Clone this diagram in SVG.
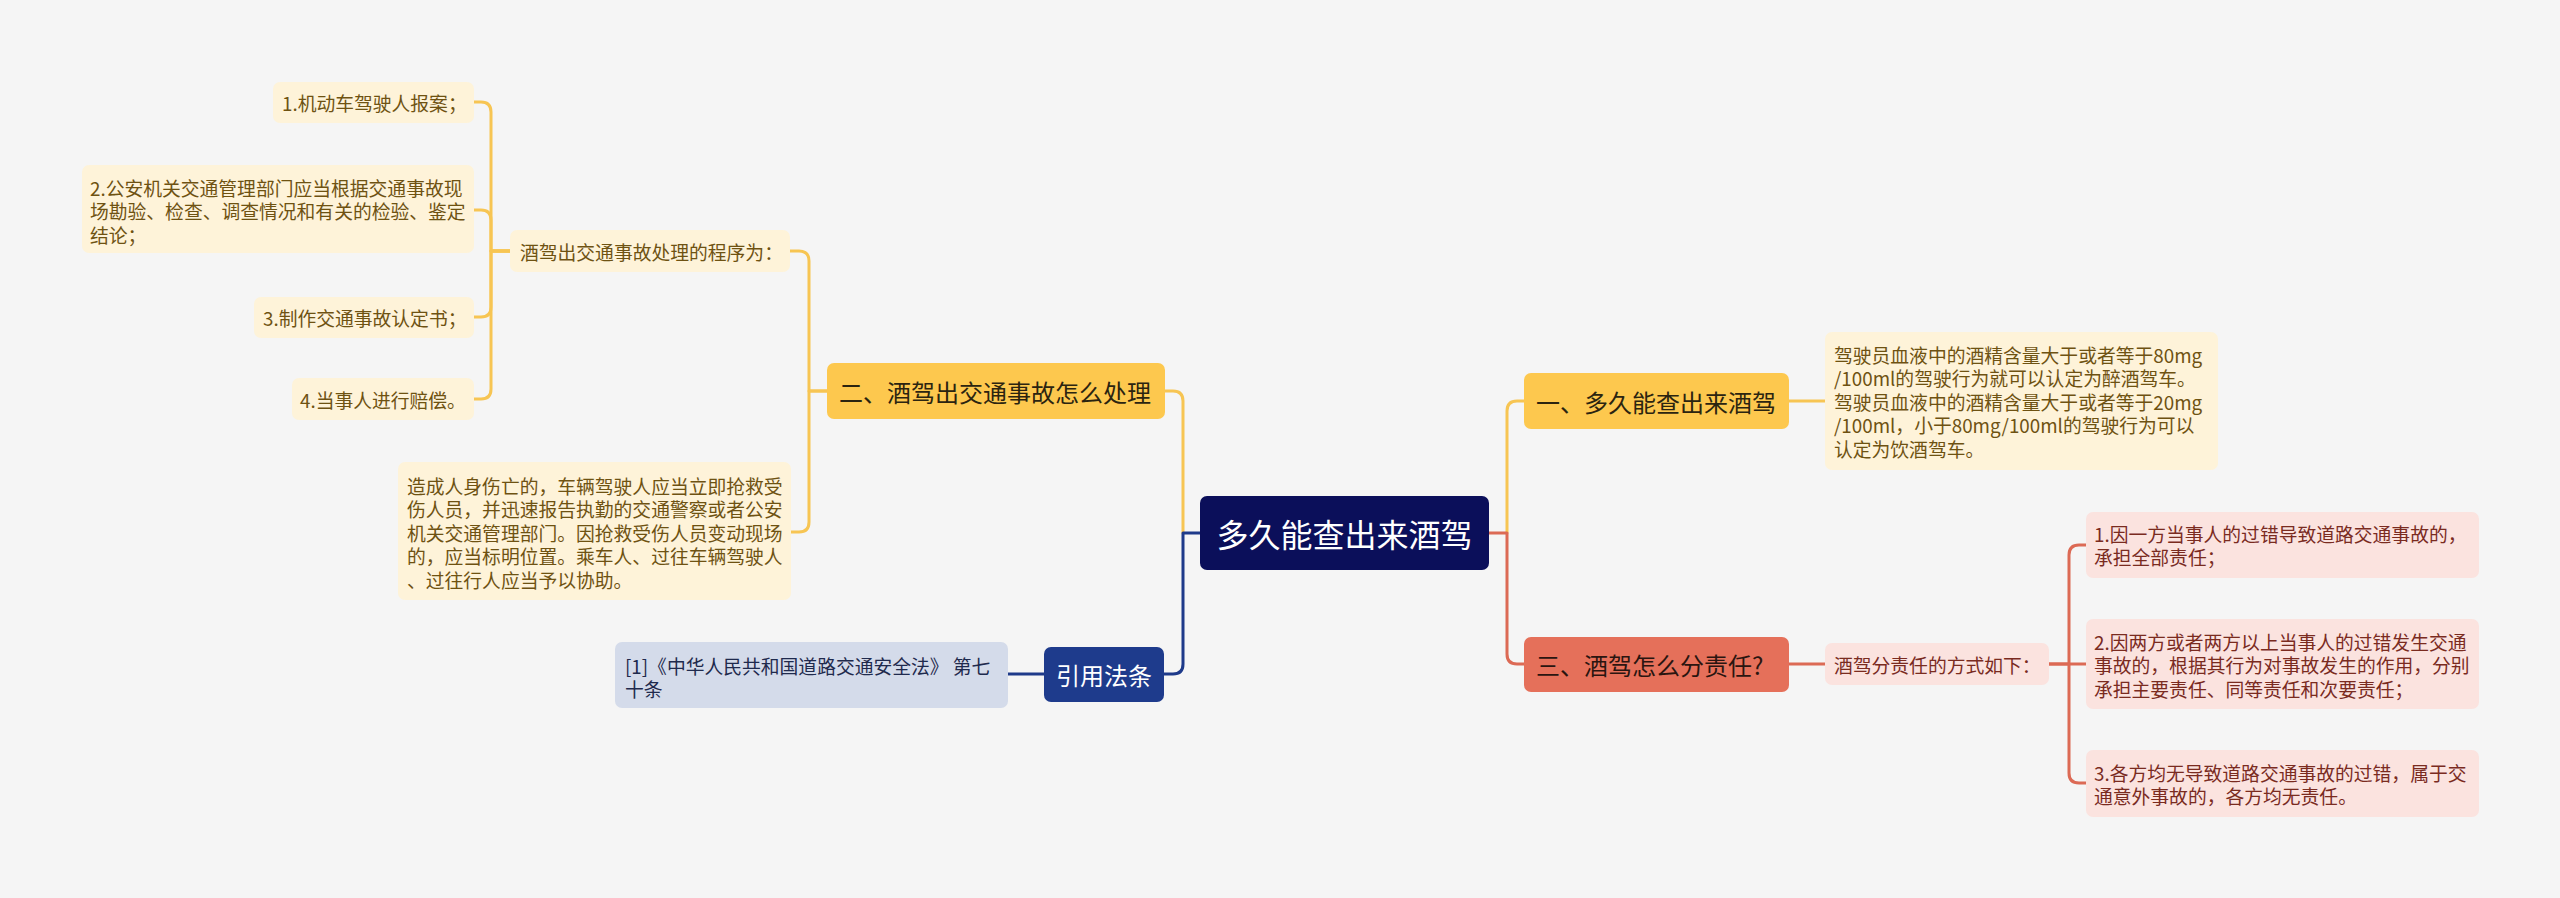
<svg xmlns="http://www.w3.org/2000/svg" width="2560" height="898" viewBox="0 0 2560 898">
<style>
text{font-family:"Noto Sans CJK SC","Noto Sans",sans-serif;dominant-baseline:central}
.c{fill:none;stroke-width:3;stroke-linecap:round;stroke-linejoin:round}
.cy{stroke:#f7c553}.cr{stroke:#dc6a55}.cb{stroke:#1e3a8a}
.dy{fill:#fef3d9}.dr{fill:#fbe3df}.db{fill:#d4dbea}
.ty{fill:#6e5212;font-size:18.8px}.tr{fill:#7a2b1f;font-size:18.8px}.tb{fill:#1f2a4d;font-size:18.8px}
.br{font-size:24px}
</style>
<rect width="2560" height="898" fill="#f5f5f5"/>
<g id="connectors">
<path class="c cy" d="M1183,533 V401 Q1183,391 1173,391 H1165"/>
<path class="c cb" d="M1200,533 H1183 V664 Q1183,674 1173,674 H1164"/>
<path class="c cb" d="M1044,674 H1008"/>
<path class="c cy" d="M827,391 H809 V261 Q809,251 799,251 H790"/>
<path class="c cy" d="M827,391 H809 V522 Q809,532 799,532 H791"/>
<path class="c cy" d="M510,251 H491 V112 Q491,102 481,102 H474"/>
<path class="c cy" d="M510,251 H491 V220 Q491,210 481,210 H474"/>
<path class="c cy" d="M510,251 H491 V307 Q491,317 481,317 H474"/>
<path class="c cy" d="M510,251 H491 V389 Q491,399 481,399 H474"/>
<path class="c cy" d="M1507,533 V411 Q1507,401 1517,401 H1524"/>
<path class="c cr" d="M1489,533 H1507 V654 Q1507,664 1517,664 H1524"/>
<path class="c cy" d="M1789,401 H1825"/>
<path class="c cr" d="M1789,664 H1825"/>
<path class="c cr" d="M2049,664 H2069 V555 Q2069,545 2079,545 H2086"/>
<path class="c cr" d="M2049,664 H2086"/>
<path class="c cr" d="M2069,664 V773 Q2069,783 2079,783 H2086"/>
</g>
<g id="root">
<rect x="1200" y="496" width="289" height="74" rx="7" fill="#0b0f5a"/>
<text x="1344.5" y="533" font-size="32" fill="#ffffff" text-anchor="middle">多久能查出来酒驾</text>
</g>
<g id="b1">
<rect x="1524" y="373" width="265" height="56" rx="7" fill="#fdc84e"/>
<text class="br" x="1536" y="401" fill="#2b2410">一、多久能查出来酒驾</text>
</g>
<g id="b1d">
<rect class="dy" x="1825" y="332" width="393" height="138" rx="7"/>
<text class="ty" x="1834" y="354">驾驶员血液中的酒精含量大于或者等于80mg</text>
<text class="ty" x="1834" y="377.5">/100ml的驾驶行为就可以认定为醉酒驾车。</text>
<text class="ty" x="1834" y="401">驾驶员血液中的酒精含量大于或者等于20mg</text>
<text class="ty" x="1834" y="424.5">/100ml，小于80mg/100ml的驾驶行为可以</text>
<text class="ty" x="1834" y="448">认定为饮酒驾车。</text>
</g>
<g id="b3">
<rect x="1524" y="637" width="265" height="55" rx="7" fill="#e5705a"/>
<text class="br" x="1536" y="664" fill="#2a1510">三、酒驾怎么分责任?</text>
</g>
<g id="b3d">
<rect class="dr" x="1825" y="643" width="224" height="42" rx="7"/>
<text class="tr" x="1834" y="664">酒驾分责任的方式如下：</text>
</g>
<g id="r1">
<rect class="dr" x="2086" y="512" width="393" height="66" rx="7"/>
<text class="tr" x="2094" y="533">1.因一方当事人的过错导致道路交通事故的，</text>
<text class="tr" x="2094" y="556.5">承担全部责任；</text>
</g>
<g id="r2">
<rect class="dr" x="2086" y="619" width="393" height="90" rx="7"/>
<text class="tr" x="2094" y="641">2.因两方或者两方以上当事人的过错发生交通</text>
<text class="tr" x="2094" y="664.5">事故的，根据其行为对事故发生的作用，分别</text>
<text class="tr" x="2094" y="688">承担主要责任、同等责任和次要责任；</text>
</g>
<g id="r3">
<rect class="dr" x="2086" y="750" width="393" height="67" rx="7"/>
<text class="tr" x="2094" y="772">3.各方均无导致道路交通事故的过错，属于交</text>
<text class="tr" x="2094" y="795.5">通意外事故的，各方均无责任。</text>
</g>
<g id="b2">
<rect x="827" y="363" width="338" height="56" rx="7" fill="#fdc84e"/>
<text class="br" x="839" y="391" fill="#2b2410">二、酒驾出交通事故怎么处理</text>
</g>
<g id="b2p">
<rect class="dy" x="510" y="230" width="280" height="42" rx="7"/>
<text class="ty" x="520" y="251">酒驾出交通事故处理的程序为：</text>
</g>
<g id="p1">
<rect class="dy" x="273" y="82" width="201" height="41" rx="7"/>
<text class="ty" x="282" y="102">1.机动车驾驶人报案；</text>
</g>
<g id="p2">
<rect class="dy" x="82" y="165" width="392" height="88" rx="7"/>
<text class="ty" x="90" y="187">2.公安机关交通管理部门应当根据交通事故现</text>
<text class="ty" x="90" y="210.5">场勘验、检查、调查情况和有关的检验、鉴定</text>
<text class="ty" x="90" y="234">结论；</text>
</g>
<g id="p3">
<rect class="dy" x="254" y="297" width="220" height="41" rx="7"/>
<text class="ty" x="263" y="317.5">3.制作交通事故认定书；</text>
</g>
<g id="p4">
<rect class="dy" x="292" y="378" width="182" height="42" rx="7"/>
<text class="ty" x="300" y="399">4.当事人进行赔偿。</text>
</g>
<g id="b2d">
<rect class="dy" x="398" y="462" width="393" height="138" rx="7"/>
<text class="ty" x="407" y="485">造成人身伤亡的，车辆驾驶人应当立即抢救受</text>
<text class="ty" x="407" y="508.5">伤人员，并迅速报告执勤的交通警察或者公安</text>
<text class="ty" x="407" y="532">机关交通管理部门。因抢救受伤人员变动现场</text>
<text class="ty" x="407" y="555.5">的，应当标明位置。乘车人、过往车辆驾驶人</text>
<text class="ty" x="407" y="579">、过往行人应当予以协助。</text>
</g>
<g id="b4">
<rect x="1044" y="647" width="120" height="55" rx="7" fill="#1e3b8c"/>
<text class="br" x="1104" y="674.5" fill="#ffffff" text-anchor="middle">引用法条</text>
</g>
<g id="b4d">
<rect class="db" x="615" y="642" width="393" height="66" rx="7"/>
<text class="tb" x="625" y="665">[1]《中华人民共和国道路交通安全法》 第七</text>
<text class="tb" x="625" y="688">十条</text>
</g>
</svg>
